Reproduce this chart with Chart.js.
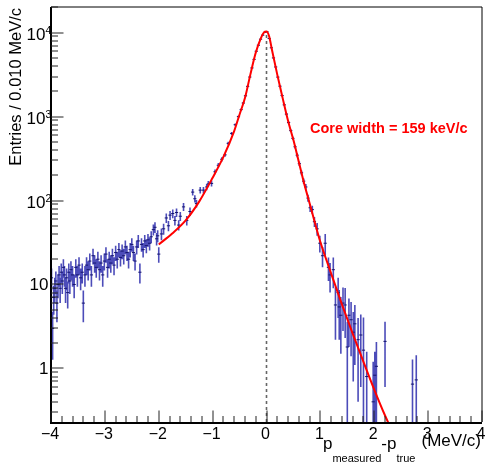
<!DOCTYPE html>
<html><head><meta charset="utf-8">
<script src="https://cdn.jsdelivr.net/npm/chart.js@4/dist/chart.umd.min.js"></script>
<style>html,body{margin:0;padding:0;background:#fff}#wrap{width:487px;height:463px}</style>
</head><body><div id="wrap"><canvas id="c" width="487" height="463"></canvas></div>
<script>
// ---------- data ----------
const xTickValues = [-4,-3,-2,-1,0,1,2,3,4];
const xTickLabels = ['\u22124','\u22123','\u22122','\u22121','0','1','2','3','4'];
const yTickValues = [1,10,100,1000,10000];
const yTickBase = ['1','10','10','10','10'];
const yTickExp  = ['','','2','3','4'];
const xMin = -4, xMax = 4, yMin = 0.23, yMax = 20200;

// left tail (Poisson errors)
const leftX = [-3.99,-3.97,-3.95,-3.93,-3.91,-3.89,-3.87,-3.85,-3.83,-3.81,-3.79,-3.77,-3.75,-3.73,-3.71,-3.69,-3.67,-3.65,-3.63,
  -3.60,-3.57,-3.54,-3.51,-3.48,-3.45,-3.42,-3.40,
  -3.37,-3.34,-3.31,-3.28,-3.25,-3.22,-3.19,-3.16,-3.13,-3.10,-3.07,-3.04,-3.01,-2.98,-2.95,-2.92,-2.89,-2.86,-2.83,-2.80,
  -2.77,-2.74,-2.71,-2.68,-2.65,-2.62,-2.59,-2.56,-2.53,-2.50,-2.47,-2.44,-2.41,-2.38,-2.35,-2.32,-2.29,-2.26,-2.23,-2.20,
  -2.17,-2.14,-2.10,-2.07,-2.04,-2.02];
const leftY = [12,3,7,9,11,6,10,13,9,14,11,16,13,9,12,8,14,11,15,
  13,10,16,13,17,12,14,6,
  13,17,15,19,13,22,18,16,20,15,18,13,19,23,16,20,18,22,17,24,
  20,26,21,25,22,28,24,20,26,30,24,19,28,33,14,30,26,33,29,34,
  31,37,45,48,35,38];

// core region (Poisson errors)
const coreX = [-2.00,-1.95,-1.91,-1.86,-1.82,-1.79,-1.74,-1.70,-1.67,-1.63,-1.60,-1.54,-1.48,-1.42,-1.37,-1.33,-1.30,-1.23,-1.17,-1.11,
  -1.08,-1.02,-0.955,-0.894,-0.83,-0.77,-0.71,-0.646,-0.58,-0.52,
  -0.47,-0.43,-0.39,-0.35,-0.31,-0.27,-0.23,-0.19,-0.15,-0.11,-0.07,-0.03,0.01,0.05,0.09,0.13,0.17,0.21,0.25,0.29,
  0.33,0.37,0.41,0.45,0.49,0.53,0.57,0.61,0.65,0.69,0.73,0.77,0.81,0.85,0.89];
const coreY = [23,40,46,62,50,67,70,58,72,51,65,84,58,74,126,105,92,133,133,145,
  158,160,220,263,310,350,480,630,800,1000,
  1210,1450,1770,2290,2960,3800,4800,6000,7080,8350,9330,10100,10230,8500,6600,5000,3900,2950,2300,1780,
  1380,1070,850,680,550,437,347,275,214,170,145,107,82,78,56];

// right tail (weighted entries, errors)
const tailX   = [0.94,0.99,1.04,1.09,1.15,1.18,1.24,1.28,1.33,1.35,1.38,1.42,1.46,1.50,1.53,1.57,1.61,1.64,1.70,1.75,1.80,1.86,1.98,2.01,2.04,2.20,2.71,2.78];
const tailY   = [46,31,22,31,16,13,15,5.7,8,5.4,4.3,6,5.7,1.8,4.3,3.8,2.7,3.4,2.2,2.5,1.65,0.8,0.4,0.83,1.06,2.1,0.65,0.73];
const tailErr = [8,7,6,9,5,5,6,3.5,4,3.2,2.8,3.2,3.4,1.8,2.5,2.4,2.0,2.3,1.8,1.9,2.4,0.78,0.8,0.75,1.0,1.5,0.63,0.71];

// fitted curve
const fitX = [-2.0,-1.75,-1.5,-1.25,-1.0,-0.8,-0.6,-0.5,-0.4,-0.3,-0.2,-0.1,-0.05,0,0.05,0.1,0.2,0.3,0.4,0.5,0.6,0.7,0.8,0.9,1.0,1.2,1.4,1.6,1.8,2.0,2.2,2.4];
const fitY = [30,40.5,58,97,187,331,671,1060,1660,3160,5750,8700,10000,10300,9000,6300,3160,1660,890,525,288,158,93,54,32,13.5,5.8,2.6,1.2,0.56,0.275,0.145];

const zeroLineTop = 10000;
const annotation = 'Core width = 159 keV/c';
const xTitleParts = ['p','measured','-p','true','(MeV/c)'];
const yTitle = 'Entries / 0.010 MeV/c';

// ---------- chart ----------
const FONT = '"Liberation Sans", Arial, Helvetica, sans-serif';
const pts = (xs, ys) => xs.slice(0, Math.min(xs.length, ys.length)).map((v, i) => ({x: v, y: ys[i]}));

const rootPlugin = {
  id: 'rootStyle',
  beforeDatasetsDraw(chart) {
    const {ctx, chartArea: a} = chart;
    const xs = chart.scales.x, ys = chart.scales.y;
    ctx.save();
    ctx.beginPath(); ctx.rect(a.left, a.top, a.right - a.left, a.bottom - a.top); ctx.clip();
    ctx.strokeStyle = 'rgba(25,25,165,0.78)';
    ctx.lineWidth = 1.6;
    const bars = (X, Y, E) => {
      const n = Math.min(X.length, Y.length);
      ctx.beginPath();
      for (let i = 0; i < n; i++) {
        const e = E ? E[i] : Math.sqrt(Y[i]);
        const px = xs.getPixelForValue(X[i]);
        const lo = Y[i] - e, hi = Math.min(Y[i] + e, yMax * 2);
        const pLo = lo > yMin * 0.5 ? ys.getPixelForValue(lo) : a.bottom + 3;
        const pHi = ys.getPixelForValue(hi);
        ctx.moveTo(px, pLo); ctx.lineTo(px, pHi);
      }
      ctx.stroke();
    };
    bars(leftX, leftY, null);
    bars(coreX, coreY, null);
    bars(tailX, tailY, tailErr);
    ctx.restore();
  },
  afterDraw(chart) {
    const {ctx, chartArea: a} = chart;
    const xs = chart.scales.x, ys = chart.scales.y;
    ctx.save();
    // frame
    ctx.strokeStyle = '#000';
    ctx.lineWidth = 1;
    ctx.beginPath(); ctx.moveTo(a.left, a.top); ctx.lineTo(a.right, a.top); ctx.lineTo(a.right, a.bottom); ctx.stroke();
    ctx.lineWidth = 2;
    ctx.beginPath(); ctx.moveTo(a.left, a.top); ctx.lineTo(a.left, a.bottom + 1); ctx.lineTo(a.right, a.bottom + 1); ctx.stroke();
    // y ticks
    ctx.lineWidth = 1;
    ctx.strokeStyle = '#222';
    ctx.beginPath();
    for (let d = -1; d <= 4; d++) {
      for (let m = 1; m <= 9; m++) {
        const v = m * Math.pow(10, d);
        if (v < yMin || v > yMax) continue;
        const py = Math.round(ys.getPixelForValue(v));
        const len = m === 1 ? 12.5 : 7;
        ctx.moveTo(a.left, py); ctx.lineTo(a.left + len, py);
      }
    }
    // x ticks
    for (let k = 0; k <= 40; k++) {
      const v = xMin + k * 0.2;
      const px = Math.round(xs.getPixelForValue(v));
      const major = k % 5 === 0;
      const len = major ? 11.5 : 6;
      ctx.moveTo(px, a.bottom); ctx.lineTo(px, a.bottom - len);
    }
    ctx.stroke();
    // x labels
    ctx.fillStyle = '#000';
    ctx.font = '16px ' + FONT;
    ctx.textAlign = 'center'; ctx.textBaseline = 'alphabetic';
    xTickValues.forEach((v, i) => {
      ctx.fillText(xTickLabels[i], xs.getPixelForValue(v) - 1, 438.5);
    });
    // y labels
    yTickValues.forEach((v, i) => {
      const py = ys.getPixelForValue(v);
      if (yTickExp[i]) {
        ctx.font = '17px ' + FONT;
        ctx.textAlign = 'right'; ctx.textBaseline = 'middle';
        ctx.fillText(yTickBase[i], 45.5, py + 3);
        ctx.font = '10.5px ' + FONT;
        ctx.textAlign = 'left'; ctx.textBaseline = 'alphabetic';
        ctx.fillText(yTickExp[i], 45.5, py + 1);
      } else {
        ctx.font = '17px ' + FONT;
        ctx.textAlign = 'right'; ctx.textBaseline = 'middle';
        ctx.fillText(yTickBase[i], 48.5, py + 1);
      }
    });
    // y title
    ctx.save();
    ctx.translate(16.5, 8);
    ctx.rotate(-Math.PI / 2);
    ctx.font = '16.5px ' + FONT;
    ctx.textAlign = 'right'; ctx.textBaseline = 'middle';
    ctx.fillText(yTitle, 0, 0);
    ctx.restore();
    // x title
    ctx.textAlign = 'left'; ctx.textBaseline = 'alphabetic';
    let xx = 323;
    const big = '17px ' + FONT, small = '11px ' + FONT;
    ctx.font = big; ctx.fillText(xTitleParts[0], xx, 449); xx += ctx.measureText(xTitleParts[0]).width;
    ctx.font = small; ctx.fillText(xTitleParts[1], xx, 461.5); xx += ctx.measureText(xTitleParts[1]).width;
    ctx.font = big; ctx.fillText(xTitleParts[2], xx, 449); xx += ctx.measureText(xTitleParts[2]).width;
    ctx.font = small; ctx.fillText(xTitleParts[3], xx, 461.5);
    ctx.font = big; ctx.textAlign = 'right'; ctx.fillText(xTitleParts[4], 481, 446);
    // annotation
    ctx.fillStyle = '#ff0000';
    ctx.font = 'bold 14.5px ' + FONT;
    ctx.textAlign = 'left'; ctx.textBaseline = 'alphabetic';
    ctx.fillText(annotation, 310, 133);
    ctx.restore();
  }
};

new Chart(document.getElementById('c').getContext('2d'), {
  type: 'scatter',
  data: {
    datasets: [
      {label: 'fit', data: pts(fitX, fitY), showLine: true, borderColor: '#ff0000', borderWidth: 2,
       pointRadius: 0, cubicInterpolationMode: 'monotone', fill: false},
      {label: 'left', data: pts(leftX, leftY), showLine: false, pointStyle: 'line', pointRadius: 1.6,
       pointBorderColor: '#14146e', pointBorderWidth: 1},
      {label: 'core', data: pts(coreX, coreY), showLine: false, pointStyle: 'line', pointRadius: 1.6,
       pointBorderColor: '#14146e', pointBorderWidth: 1},
      {label: 'tail', data: pts(tailX, tailY), showLine: false, pointStyle: 'line', pointRadius: 1.6,
       pointBorderColor: '#14146e', pointBorderWidth: 1},
      {label: 'zero', data: [{x: 0, y: yMin}, {x: 0, y: zeroLineTop}], showLine: true, borderColor: '#666',
       borderWidth: 1.6, borderDash: [3, 3], pointRadius: 0, fill: false}
    ]
  },
  options: {
    responsive: false, animation: false, devicePixelRatio: 1, events: [],
    layout: {padding: {top: 7, right: 5, left: 0, bottom: 0}},
    plugins: {legend: {display: false}, tooltip: {enabled: false}},
    scales: {
      x: {type: 'linear', min: xMin, max: xMax, grid: {display: false}, border: {display: false},
          ticks: {display: false, stepSize: 1}, afterFit: s => { s.height = 41; }},
      y: {type: 'logarithmic', min: yMin, max: yMax, grid: {display: false}, border: {display: false},
          ticks: {display: false}, afterFit: s => { s.width = 51; }}
    }
  },
  plugins: [rootPlugin]
});
</script>
</body></html>
